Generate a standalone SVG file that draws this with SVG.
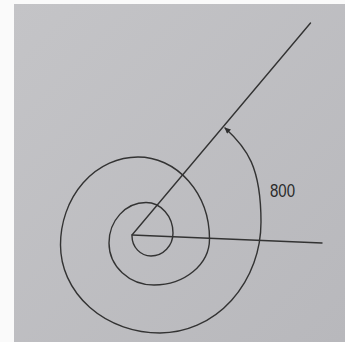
<svg xmlns="http://www.w3.org/2000/svg" width="345" height="342" viewBox="0 0 345 342">
  <defs>
    <linearGradient id="page" x1="0" y1="0" x2="1" y2="1">
      <stop offset="0" stop-color="#c4c4c7"/>
      <stop offset="1" stop-color="#b8b8bc"/>
    </linearGradient>
    <marker id="arrowhead" viewBox="0 0 10 10" refX="9" refY="5" markerWidth="7" markerHeight="6" markerUnits="userSpaceOnUse" orient="auto">
      <path d="M0,0 L10,5 L0,10 z" fill="#2e2e2e"/>
    </marker>
    <style>
      .ln { fill: none; stroke: #333333; stroke-width: 1.4; stroke-linecap: round; stroke-linejoin: round; }
      .lbl { font-family: "Liberation Sans", Arial, sans-serif; font-size: 17.5px; fill: #2a2a2a; }
    </style>
  </defs>
  <rect x="0" y="0" width="345" height="342" fill="#fafafa"/>
  <rect x="14" y="4" width="331" height="338" fill="url(#page)"/>
  <g id="rays">
    <line class="ln" x1="132" y1="235" x2="310.5" y2="23"/>
    <line class="ln" x1="132" y1="235" x2="322" y2="243"/>
  </g>
  <g id="spiral">
    <path class="ln" marker-end="url(#arrowhead)" d="M132,236 A19,20 0 0 0 151,256 A22,23 0 0 0 173,233 A27,30.5 0 0 0 146,202.5 A37,40.5 0 0 0 109,243 A45,42 0 0 0 154,285 A55.5,46 0 0 0 209.5,239 A71.5,82 0 0 0 138,157 A77.5,88 0 0 0 60.5,245 A99.5,88 0 0 0 160,333 A101,111 0 0 0 261,222 C261,167 247,148 225,128"/>
  </g>
  <g id="label">
    <text class="lbl" x="270" y="196.8" textLength="25" lengthAdjust="spacingAndGlyphs">800</text>
  </g>
</svg>
